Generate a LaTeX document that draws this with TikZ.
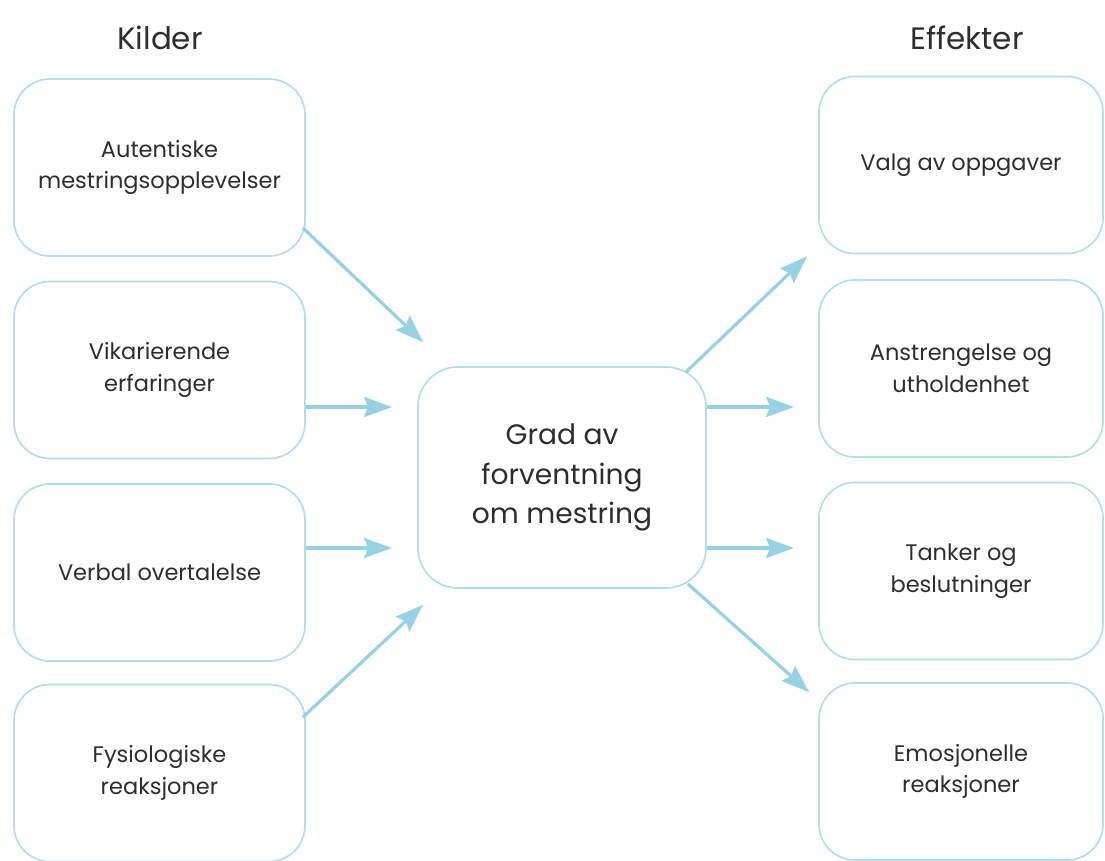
\documentclass[tikz,border=0pt]{standalone}
\usepackage{fontspec}
\setmainfont{Poppins}
\usetikzlibrary{arrows.meta,calc}
\definecolor{boxline}{RGB}{178,222,230}
\definecolor{arrowblue}{RGB}{150,210,228}
\definecolor{textgray}{RGB}{45,45,45}

\begin{document}
\begin{tikzpicture}[x=0.025cm,y=-0.025cm,
  kilde/.style={draw=boxline, line width=1.2pt, rounded corners=0.9cm, minimum width=7.275cm, minimum height=4.425cm, align=center, text=textgray, inner sep=0pt, font=\fontsize{16}{22.5}\selectfont},
  effekt/.style={kilde, minimum width=7.1cm},
  sentral/.style={kilde, rounded corners=1cm, minimum width=7.2cm, minimum height=5.525cm, font=\fontsize{20}{28}\selectfont},
  tittel/.style={text=textgray, font=\fontsize{22}{26}\selectfont},
  pil/.style={draw=arrowblue, line width=2.3pt, -{Stealth[length=0.7cm,width=0.5cm,inset=0.1cm]}}]
\useasboundingbox (0,0) rectangle (1105,861);

\node [tittel] (kilder) at (160,38) {Kilder};
\node [tittel] (effekter) at (967,38) {Effekter};

\node [kilde] (k1) at (159.5,167.5) {Autentiske\\mestringsopplevelser};
\node [kilde] (k2) at (159.5,370) {Vikarierende\\erfaringer};
\node [kilde] (k3) at (159.5,572.5) {Verbal overtalelse};
\node [kilde] (k4) at (159.5,773) {Fysiologiske\\reaksjoner};

\node [sentral] (grad) at (562,477.5) {Grad av\\forventning\\om mestring};

\node [effekt] (e1) at (961,165) {Valg av oppgaver};
\node [effekt] (e2) at (961,368.5) {Anstrengelse og\\utholdenhet};
\node [effekt] (e3) at (961,571) {Tanker og\\beslutninger};
\node [effekt] (e4) at (961,771.5) {Emosjonelle\\reaksjoner};

\coordinate (g2) at ($(grad.west)+(0,-70.5)$);
\coordinate (g3) at ($(grad.west)+(0,70.5)$);
\coordinate (f2) at ($(e2.west |- grad.east)+(0,-70.5)$);
\coordinate (f3) at ($(e3.west |- grad.east)+(0,70.5)$);

\draw [pil] ($(k1.south east)+(-3,-29)$) -- ($(grad.north west)+(6,-24)$);
\draw [pil, shorten >=0.625cm] (k2.east |- g2) -- (g2);
\draw [pil, shorten >=0.625cm] (k3.east |- g3) -- (g3);
\draw [pil] ($(k4.north east)+(-3,33.5)$) -- ($(grad.south west)+(6,16)$);

\draw [pil] ($(grad.north east)+(-21,6)$) -- ($(e1.south west)+(-11,2)$);
\draw [pil, shorten >=0.6cm] (grad.east |- f2) -- (f2);
\draw [pil, shorten >=0.6cm] (grad.east |- f3) -- (f3);
\draw [pil] ($(grad.south east)+(-19,-5)$) -- ($(e4.north west)+(-9,10)$);
\end{tikzpicture}
\end{document}
